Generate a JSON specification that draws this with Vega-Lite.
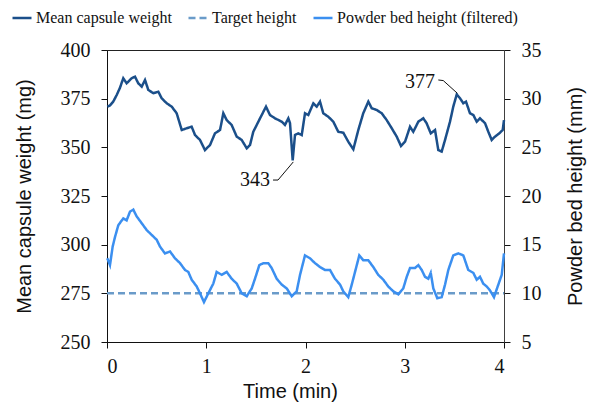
{
  "$schema": "https://vega.github.io/schema/vega-lite/v6.json",
  "width": 397,
  "height": 292,
  "autosize": {"type": "none"},
  "padding": {"left": 107, "top": 50, "right": 91, "bottom": 63},
  "background": "white",
  "config": {
    "view": {"stroke": "#222222", "strokeWidth": 1},
    "axis": {
      "grid": false,
      "domainColor": "#111111",
      "tickColor": "#111111",
      "labelFont": "Liberation Serif, Times New Roman, Tinos, DejaVu Serif, serif",
      "labelFontSize": 20,
      "labelColor": "#111111",
      "titleFont": "Liberation Sans, Arial, sans-serif",
      "titleFontSize": 20,
      "titleFontWeight": "normal",
      "titleColor": "#111111",
      "tickSize": 6,
      "labelPadding": 11
    }
  },
  "datasets": {
    "weight": [
      {"t": 0.003, "v": 370.9}, {"t": 0.03, "v": 371.5}, {"t": 0.063, "v": 373.5}, {"t": 0.098, "v": 376.9},
      {"t": 0.13, "v": 380.5}, {"t": 0.164, "v": 385.5}, {"t": 0.198, "v": 382.9}, {"t": 0.249, "v": 385.5},
      {"t": 0.282, "v": 386.3}, {"t": 0.315, "v": 382.9}, {"t": 0.35, "v": 381.2}, {"t": 0.383, "v": 384.6},
      {"t": 0.416, "v": 379.5}, {"t": 0.467, "v": 377.8}, {"t": 0.517, "v": 378.6}, {"t": 0.551, "v": 375.2},
      {"t": 0.602, "v": 372.6}, {"t": 0.652, "v": 370.9}, {"t": 0.702, "v": 367.5}, {"t": 0.753, "v": 358.9},
      {"t": 0.803, "v": 359.8}, {"t": 0.853, "v": 360.6}, {"t": 0.887, "v": 356.3}, {"t": 0.937, "v": 353.8},
      {"t": 0.987, "v": 348.6}, {"t": 1.038, "v": 351.2}, {"t": 1.088, "v": 357.2}, {"t": 1.139, "v": 358.9},
      {"t": 1.172, "v": 367.5}, {"t": 1.206, "v": 364.0}, {"t": 1.256, "v": 361.5}, {"t": 1.307, "v": 355.5},
      {"t": 1.357, "v": 353.8}, {"t": 1.408, "v": 349.5}, {"t": 1.441, "v": 351.2}, {"t": 1.474, "v": 358.0},
      {"t": 1.542, "v": 364.9}, {"t": 1.602, "v": 370.9}, {"t": 1.642, "v": 366.6}, {"t": 1.693, "v": 364.9},
      {"t": 1.76, "v": 363.2}, {"t": 1.793, "v": 361.5}, {"t": 1.827, "v": 364.9}, {"t": 1.844, "v": 362.4},
      {"t": 1.871, "v": 343.3}, {"t": 1.894, "v": 356.3}, {"t": 1.927, "v": 357.2}, {"t": 1.962, "v": 356.3},
      {"t": 1.995, "v": 367.5}, {"t": 2.028, "v": 366.6}, {"t": 2.079, "v": 372.6}, {"t": 2.113, "v": 370.9},
      {"t": 2.146, "v": 373.5}, {"t": 2.179, "v": 367.5}, {"t": 2.23, "v": 365.7}, {"t": 2.28, "v": 363.2},
      {"t": 2.33, "v": 358.0}, {"t": 2.381, "v": 357.5}, {"t": 2.431, "v": 352.9}, {"t": 2.482, "v": 349.0},
      {"t": 2.532, "v": 358.9}, {"t": 2.582, "v": 367.5}, {"t": 2.633, "v": 373.5}, {"t": 2.667, "v": 370.1},
      {"t": 2.717, "v": 369.2}, {"t": 2.768, "v": 367.5}, {"t": 2.818, "v": 364.0}, {"t": 2.869, "v": 359.8},
      {"t": 2.919, "v": 355.5}, {"t": 2.962, "v": 350.7}, {"t": 3.003, "v": 352.9}, {"t": 3.053, "v": 360.6},
      {"t": 3.086, "v": 358.0}, {"t": 3.137, "v": 363.2}, {"t": 3.187, "v": 364.9}, {"t": 3.22, "v": 362.4},
      {"t": 3.262, "v": 357.2}, {"t": 3.305, "v": 358.9}, {"t": 3.338, "v": 348.6}, {"t": 3.372, "v": 347.8},
      {"t": 3.406, "v": 353.8}, {"t": 3.456, "v": 363.2}, {"t": 3.489, "v": 370.9}, {"t": 3.524, "v": 377.2},
      {"t": 3.557, "v": 375.2}, {"t": 3.59, "v": 372.6}, {"t": 3.617, "v": 373.5}, {"t": 3.657, "v": 367.5},
      {"t": 3.691, "v": 366.6}, {"t": 3.725, "v": 363.2}, {"t": 3.758, "v": 364.9}, {"t": 3.809, "v": 362.4},
      {"t": 3.842, "v": 358.0}, {"t": 3.876, "v": 353.8}, {"t": 3.909, "v": 355.5}, {"t": 3.953, "v": 357.2},
      {"t": 3.987, "v": 358.9}, {"t": 4.0, "v": 364.0}
    ],
    "bed": [
      {"t": 0.003, "v": 13.6}, {"t": 0.03, "v": 12.9}, {"t": 0.057, "v": 14.8}, {"t": 0.081, "v": 15.8},
      {"t": 0.114, "v": 17.0}, {"t": 0.164, "v": 17.7}, {"t": 0.198, "v": 17.5}, {"t": 0.232, "v": 18.4},
      {"t": 0.265, "v": 18.6}, {"t": 0.299, "v": 17.9}, {"t": 0.35, "v": 17.2}, {"t": 0.4, "v": 16.5},
      {"t": 0.45, "v": 16.0}, {"t": 0.501, "v": 15.5}, {"t": 0.534, "v": 14.8}, {"t": 0.584, "v": 14.1},
      {"t": 0.635, "v": 14.3}, {"t": 0.685, "v": 13.6}, {"t": 0.736, "v": 13.1}, {"t": 0.786, "v": 12.4},
      {"t": 0.819, "v": 12.2}, {"t": 0.853, "v": 11.4}, {"t": 0.904, "v": 10.7}, {"t": 0.937, "v": 10.0},
      {"t": 0.977, "v": 9.1}, {"t": 1.021, "v": 10.0}, {"t": 1.071, "v": 11.0}, {"t": 1.105, "v": 12.2},
      {"t": 1.156, "v": 11.9}, {"t": 1.206, "v": 12.2}, {"t": 1.256, "v": 11.5}, {"t": 1.307, "v": 11.0},
      {"t": 1.357, "v": 10.0}, {"t": 1.408, "v": 9.7}, {"t": 1.458, "v": 10.5}, {"t": 1.491, "v": 11.5},
      {"t": 1.535, "v": 12.9}, {"t": 1.575, "v": 13.1}, {"t": 1.625, "v": 13.1}, {"t": 1.659, "v": 12.6},
      {"t": 1.71, "v": 11.5}, {"t": 1.76, "v": 10.9}, {"t": 1.811, "v": 10.5}, {"t": 1.861, "v": 9.7},
      {"t": 1.911, "v": 10.2}, {"t": 1.945, "v": 11.9}, {"t": 1.995, "v": 13.9}, {"t": 2.045, "v": 13.6},
      {"t": 2.096, "v": 13.1}, {"t": 2.146, "v": 12.7}, {"t": 2.196, "v": 12.4}, {"t": 2.247, "v": 12.4},
      {"t": 2.297, "v": 11.5}, {"t": 2.348, "v": 10.9}, {"t": 2.381, "v": 10.2}, {"t": 2.431, "v": 9.6},
      {"t": 2.466, "v": 10.9}, {"t": 2.499, "v": 12.2}, {"t": 2.542, "v": 13.9}, {"t": 2.582, "v": 13.4},
      {"t": 2.633, "v": 13.4}, {"t": 2.683, "v": 12.7}, {"t": 2.733, "v": 11.9}, {"t": 2.784, "v": 11.4},
      {"t": 2.834, "v": 10.7}, {"t": 2.885, "v": 10.2}, {"t": 2.935, "v": 9.9}, {"t": 2.985, "v": 10.5},
      {"t": 3.02, "v": 11.7}, {"t": 3.053, "v": 12.6}, {"t": 3.103, "v": 12.6}, {"t": 3.137, "v": 12.9},
      {"t": 3.171, "v": 12.4}, {"t": 3.204, "v": 11.7}, {"t": 3.237, "v": 11.5}, {"t": 3.262, "v": 12.1},
      {"t": 3.288, "v": 10.5}, {"t": 3.328, "v": 9.5}, {"t": 3.372, "v": 9.6}, {"t": 3.406, "v": 10.9},
      {"t": 3.439, "v": 12.4}, {"t": 3.489, "v": 13.9}, {"t": 3.54, "v": 14.1}, {"t": 3.59, "v": 13.9},
      {"t": 3.64, "v": 12.4}, {"t": 3.691, "v": 12.1}, {"t": 3.725, "v": 11.4}, {"t": 3.758, "v": 11.7},
      {"t": 3.791, "v": 11.0}, {"t": 3.826, "v": 10.7}, {"t": 3.859, "v": 10.3}, {"t": 3.899, "v": 9.6},
      {"t": 3.943, "v": 10.9}, {"t": 3.977, "v": 11.9}, {"t": 4.0, "v": 14.1}
    ],
    "target": [{"t": 0, "v": 275}, {"t": 4, "v": 275}],
    "labels": [{"t": 1.49, "v": 333.2, "text": "343"}, {"t": 3.154, "v": 383.7, "text": "377"}],
    "leaders": [
      {"id": "a", "t": 1.673, "v": 333.2}, {"id": "a", "t": 1.723, "v": 333.2}, {"id": "a", "t": 1.877, "v": 342.5},
      {"id": "b", "t": 3.338, "v": 384.6}, {"id": "b", "t": 3.388, "v": 384.3}, {"id": "b", "t": 3.529, "v": 377.8}
    ]
  },
  "layer": [
    {
      "encoding": {
        "x": {"field": "t", "type": "quantitative", "scale": {"domain": [0, 4], "nice": false},
              "axis": {"values": [0, 1, 2, 3, 4], "format": "d", "title": "Time (min)", "labelPadding": 8, "titlePadding": 5, "titleX": 183}},
        "y": {"field": "v", "type": "quantitative", "scale": {"domain": [250, 400], "nice": false},
              "axis": {"orient": "left", "values": [250, 275, 300, 325, 350, 375, 400], "title": "Mean capsule weight (mg)", "titlePadding": 26}}
      },
      "layer": [
        {
          "data": {"name": "weight"},
          "transform": [{"calculate": "'Mean capsule weight'", "as": "series"}],
          "mark": {"type": "line", "strokeWidth": 2.5, "interpolate": "linear"},
          "encoding": {
            "color": {"field": "series", "type": "nominal",
              "scale": {"domain": ["Mean capsule weight", "Target height", "Powder bed height (filtered)"], "range": ["#1b4f8a", "#6a9bc9", "#3b8ff0"]},
              "legend": {"title": null, "orient": "none", "legendX": -96, "legendY": -43, "direction": "horizontal", "symbolType": "stroke", "symbolSize": 361, "symbolStrokeWidth": 2.5, "labelFont": "Liberation Serif, Times New Roman, Tinos, DejaVu Serif, serif", "labelFontSize": 16, "labelColor": "#111111", "columnPadding": 11, "labelOffset": 3, "labelLimit": 400, "padding": 0}},
            "strokeDash": {"field": "series", "type": "nominal",
              "scale": {"domain": ["Mean capsule weight", "Target height", "Powder bed height (filtered)"], "range": [[1, 0], [7, 4], [1, 0]]},
              "legend": {"title": null, "orient": "none", "legendX": -96, "legendY": -43, "direction": "horizontal", "symbolType": "stroke", "symbolSize": 361, "symbolStrokeWidth": 2.5, "labelFont": "Liberation Serif, Times New Roman, Tinos, DejaVu Serif, serif", "labelFontSize": 16, "labelColor": "#111111", "columnPadding": 11, "labelOffset": 3, "labelLimit": 400, "padding": 0}}
          }
        },
        {
          "data": {"name": "target"},
          "transform": [{"calculate": "'Target height'", "as": "series"}],
          "mark": {"type": "line", "strokeWidth": 2.5},
          "encoding": {
            "color": {"field": "series", "type": "nominal"},
            "strokeDash": {"field": "series", "type": "nominal"}
          }
        },
        {
          "data": {"name": "leaders"},
          "mark": {"type": "line", "color": "#111111", "strokeWidth": 1},
          "encoding": {"detail": {"field": "id", "type": "nominal"}}
        },
        {
          "data": {"name": "labels"},
          "mark": {"type": "text", "font": "Liberation Serif, Times New Roman, Tinos, DejaVu Serif, serif", "fontSize": 20, "color": "#111111"},
          "encoding": {"text": {"field": "text", "type": "nominal"}}
        }
      ]
    },
    {
      "data": {"name": "bed"},
      "transform": [{"calculate": "'Powder bed height (filtered)'", "as": "series"}],
      "mark": {"type": "line", "strokeWidth": 2.5},
      "encoding": {
        "x": {"field": "t", "type": "quantitative"},
        "y": {"field": "v", "type": "quantitative", "scale": {"domain": [5, 35], "nice": false},
              "axis": {"orient": "right", "values": [5, 10, 15, 20, 25, 30, 35], "title": "Powder bed height (mm)", "titleAngle": 270, "titleBaseline": "top", "titlePadding": 24, "domainColor": "#404040"}},
        "color": {"field": "series", "type": "nominal"},
        "strokeDash": {"field": "series", "type": "nominal"}
      }
    }
  ],
  "resolve": {"scale": {"y": "independent"}}
}
